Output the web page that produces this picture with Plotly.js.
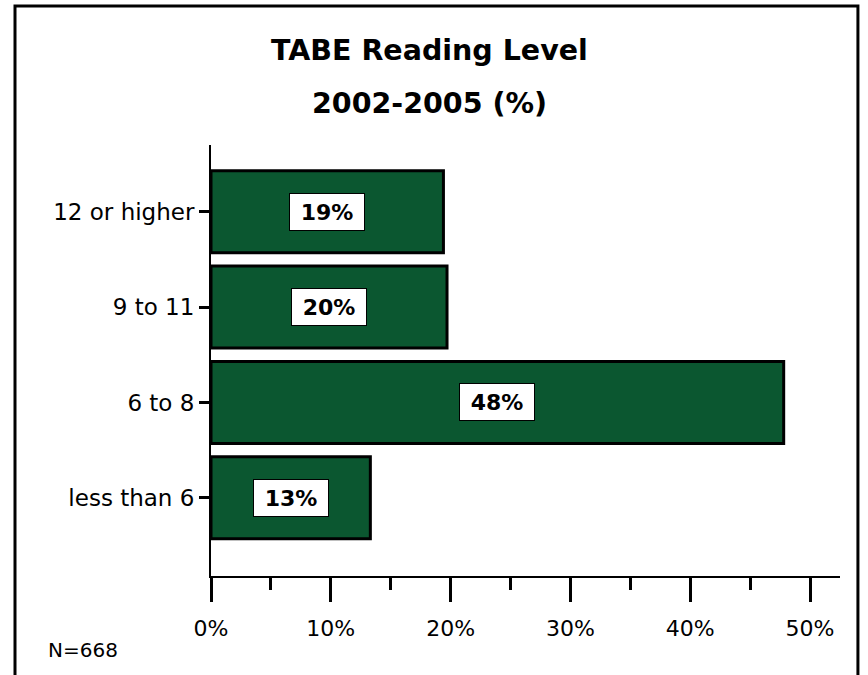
<!DOCTYPE html>
<html>
<head>
<meta charset="utf-8">
<script src="https://cdn.plot.ly/plotly-3.0.1.min.js"></script>
<style>html,body{margin:0;padding:0;background:#fff;}#chart{width:868px;height:675px;}</style>
</head>
<body>
<div id="chart"></div>
<script>
var categories = ["less than 6", "6 to 8", "9 to 11", "12 or higher"];
var values = [13.3, 47.8, 19.7, 19.4];
var valueLabels = ["13%", "48%", "20%", "19%"];
var xTickVals = [0, 10, 20, 30, 40, 50];
var xTickText = ["0%", "10%", "20%", "30%", "40%", "50%"];
var titleLines = ["TABE Reading Level", "2002-2005 (%)"];
var footnote = "N=668";

var FONT = "DejaVu Sans, Verdana, sans-serif";

var trace = {
  type: "bar",
  orientation: "h",
  x: values,
  y: categories,
  marker: {color: "#0b5730", line: {color: "#000", width: 3}},
  hoverinfo: "none"
};

var annotations = values.map(function (v, i) {
  return {
    x: v / 2, y: categories[i], xref: "x", yref: "y",
    text: "<b>" + valueLabels[i] + "</b>", showarrow: false,
    font: {family: FONT, size: 22, color: "#000"},
    bgcolor: "#fff", bordercolor: "#000", borderwidth: 1,
    borderpad: 4, width: 66, height: 28
  };
});
annotations.push({
  x: 0.348, y: 1.2204, xref: "paper", yref: "paper", xanchor: "center", yanchor: "middle",
  showarrow: false, text: "<b>" + titleLines[0] + "</b>", font: {family: FONT, size: 28.5, color: "#000"}
});
annotations.push({
  x: 0.348, y: 1.0974, xref: "paper", yref: "paper", xanchor: "center", yanchor: "middle",
  showarrow: false, text: "<b>" + titleLines[1] + "</b>", font: {family: FONT, size: 28.5, color: "#000"}
});
annotations.push({
  x: -0.262, y: -0.172, xref: "paper", yref: "paper", xanchor: "left", yanchor: "middle",
  showarrow: false, text: footnote, font: {family: FONT, size: 20, color: "#000"}
});

var layout = {
  width: 868, height: 675,
  margin: {l: 211, r: 28, t: 145, b: 99, pad: 0},
  paper_bgcolor: "#fff", plot_bgcolor: "#fff",
  showlegend: false,
  bargap: 0.14,
  font: {family: FONT, color: "#000"},
  xaxis: {
    range: [0, 52.5], fixedrange: true,
    tickvals: xTickVals, ticktext: xTickText,
    ticks: "outside", ticklen: 24, tickwidth: 3, tickcolor: "#000",
    showline: true, linecolor: "#000", linewidth: 2,
    showgrid: false, zeroline: false,
    tickfont: {family: FONT, size: 22, color: "#000"},
    ticklabelstandoff: 8,
    minor: {dtick: 5, tick0: 0, ticks: "outside", ticklen: 12, tickwidth: 3, tickcolor: "#000", showgrid: false}
  },
  yaxis: {
    type: "category", categoryorder: "array", categoryarray: categories,
    range: [-0.82, 3.70], fixedrange: true,
    ticks: "outside", ticklen: 10, tickwidth: 3, tickcolor: "#000",
    showline: true, linecolor: "#000", linewidth: 2,
    showgrid: false, zeroline: false,
    tickfont: {family: FONT, size: 23, color: "#000"},
    ticklabelstandoff: 0
  },
  annotations: annotations,
  shapes: [{
    type: "rect", xref: "paper", yref: "paper",
    x0: -0.3116, x1: 1.0285, y0: -0.3, y1: 1.3225,
    line: {color: "#000", width: 3}, fillcolor: "rgba(0,0,0,0)", layer: "below"
  }]
};

Plotly.newPlot("chart", [trace], layout, {displayModeBar: false, staticPlot: true});
</script>
</body>
</html>
